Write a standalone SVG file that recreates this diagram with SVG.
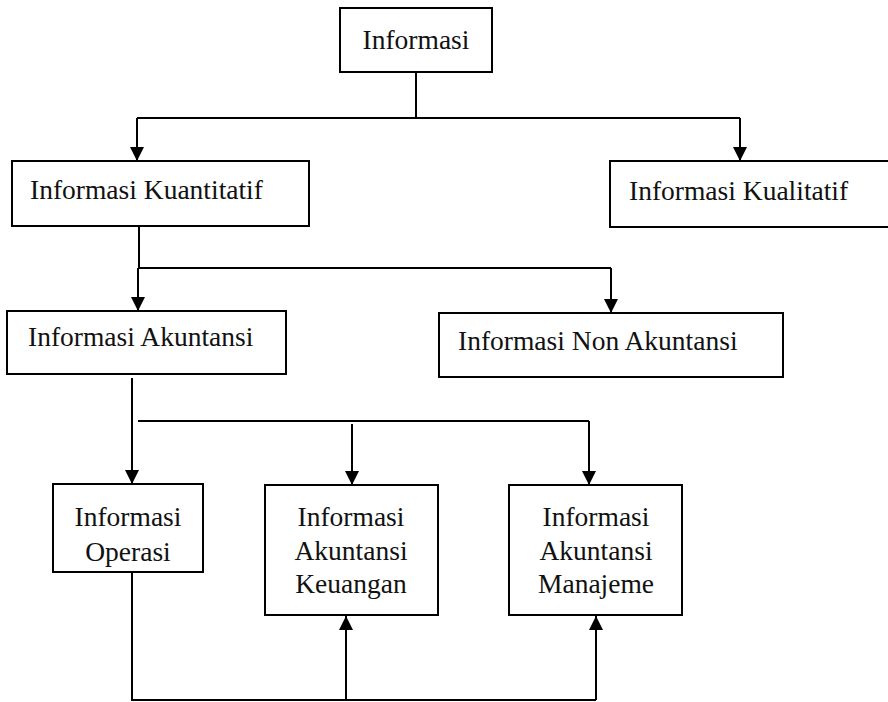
<svg xmlns="http://www.w3.org/2000/svg" width="888" height="702" viewBox="0 0 888 702">
<defs>
<marker id="ah" markerWidth="14" markerHeight="14" refX="12" refY="6" orient="auto" markerUnits="userSpaceOnUse" viewBox="0 0 12 12">
<path d="M0,0 L12,6 L0,12 Z" fill="#000"/>
</marker>
</defs>
<style>
.box{fill:#fff;stroke:#000;stroke-width:2}
.t{font-family:"Liberation Serif",serif;font-size:27.5px;fill:#111}
.c{text-anchor:middle}
.ln{fill:none;stroke:#000;stroke-width:2}
.ar{fill:none;stroke:#000;stroke-width:2;marker-end:url(#ah)}
</style>
<rect width="888" height="702" fill="#fff"/>
<g id="connectors">
<path class="ln" d="M416,72 V118"/>
<path class="ln" d="M137,118 H740"/>
<path class="ar" d="M137,118 V161"/>
<path class="ar" d="M740,118 V161"/>
<path class="ln" d="M139,226 V268 H611"/>
<path class="ar" d="M138,268 V311"/>
<path class="ar" d="M611,268 V313"/>
<path class="ar" d="M132,378 V484"/>
<path class="ln" d="M138,421 H589"/>
<path class="ar" d="M352,424 V485"/>
<path class="ar" d="M589,421 V485"/>
<path class="ln" d="M132,572 V700 H596"/>
<path class="ar" d="M346,700 V616"/>
<path class="ar" d="M596,700 V616"/>
</g>
<g id="n-informasi">
<rect class="box" x="340" y="8" width="152" height="64"/>
<text class="t c" x="416" y="49">Informasi</text>
</g>
<g id="n-kuantitatif">
<rect class="box" x="12" y="161" width="297" height="65"/>
<text class="t" x="30" y="199">Informasi Kuantitatif</text>
</g>
<g id="n-kualitatif">
<rect class="box" x="610" y="161" width="290" height="66"/>
<text class="t" x="629" y="200">Informasi Kualitatif</text>
</g>
<g id="n-akuntansi">
<rect class="box" x="7" y="311" width="279" height="63"/>
<text class="t" x="28" y="346">Informasi Akuntansi</text>
</g>
<g id="n-nonakuntansi">
<rect class="box" x="439" y="313" width="344" height="64"/>
<text class="t" x="458" y="350">Informasi Non Akuntansi</text>
</g>
<g id="n-operasi">
<rect class="box" x="53" y="484" width="150" height="88"/>
<text class="t c" x="128" y="526">Informasi</text>
<text class="t c" x="128" y="561">Operasi</text>
</g>
<g id="n-keuangan">
<rect class="box" x="265" y="485" width="173" height="130"/>
<text class="t c" x="351" y="526">Informasi</text>
<text class="t c" x="351" y="560">Akuntansi</text>
<text class="t c" x="351" y="593">Keuangan</text>
</g>
<g id="n-manajeme">
<rect class="box" x="509" y="485" width="173" height="130"/>
<text class="t c" x="596" y="526">Informasi</text>
<text class="t c" x="596" y="560">Akuntansi</text>
<text class="t c" x="596" y="593">Manajeme</text>
</g>
</svg>
